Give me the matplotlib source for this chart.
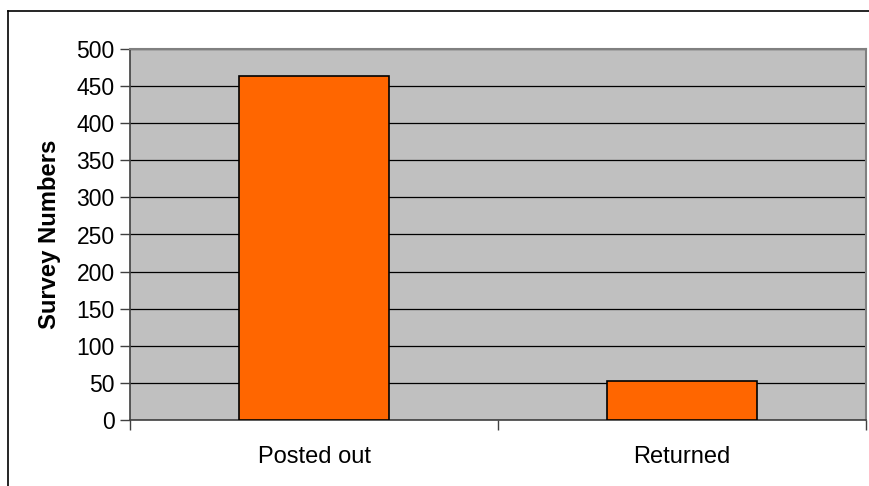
import matplotlib
matplotlib.use("Agg")
import matplotlib.pyplot as plt
from matplotlib.lines import Line2D

categories = ["Posted out", "Returned"]
counts = [463, 52]
y_ticks = [0, 50, 100, 150, 200, 250, 300, 350, 400, 450, 500]

plt.rcParams["font.family"] = ["Liberation Sans", "DejaVu Sans"]

W, H = 869, 486
fig = plt.figure(figsize=(W / 100, H / 100), dpi=100)
fig.patch.set_facecolor("white")

# outer chart frame (left and top edges visible)
fig.add_artist(Line2D([8 / W, 8 / W], [0, 1 - 11 / H], transform=fig.transFigure,
                      color="black", linewidth=1.2))
fig.add_artist(Line2D([8 / W, 1], [1 - 11 / H, 1 - 11 / H], transform=fig.transFigure,
                      color="black", linewidth=1.2))

ax = fig.add_axes([130 / W, (H - 420) / H, 736 / W, 371 / H])
ax.set_facecolor("#C0C0C0")

x = list(range(len(categories)))
ax.bar(x, counts, width=0.405, color="#FF6600", edgecolor="black", linewidth=1.2, zorder=3)

ax.set_xlim(-0.5, len(categories) - 0.5)
ax.set_ylim(0, 500)
ax.set_yticks(y_ticks)
ax.yaxis.grid(True, color="black", linewidth=0.9, zorder=1)
ax.set_axisbelow(True)

ax.set_xticks(x)
ax.set_xticklabels(categories, fontsize=17)
ax.tick_params(axis="x", length=0, pad=19)
ax.set_xticks([i - 0.5 for i in range(len(categories) + 1)], minor=True)
ax.tick_params(axis="x", which="minor", length=7, direction="out", color="#404040", width=1)
ax.tick_params(axis="y", length=7, direction="out", color="#404040", width=1, labelsize=16.5, pad=4)

for side in ("left", "bottom"):
    ax.spines[side].set_color("#404040")
    ax.spines[side].set_linewidth(1.2)
for side in ("top", "right"):
    ax.spines[side].set_color("#808080")
    ax.spines[side].set_linewidth(1.5)

ax.set_ylabel("Survey Numbers", fontsize=17.2, fontweight="bold")
ax.yaxis.set_label_coords(-(130 - 61) / 736, 0.5)

fig.savefig("out.png", dpi=100)
